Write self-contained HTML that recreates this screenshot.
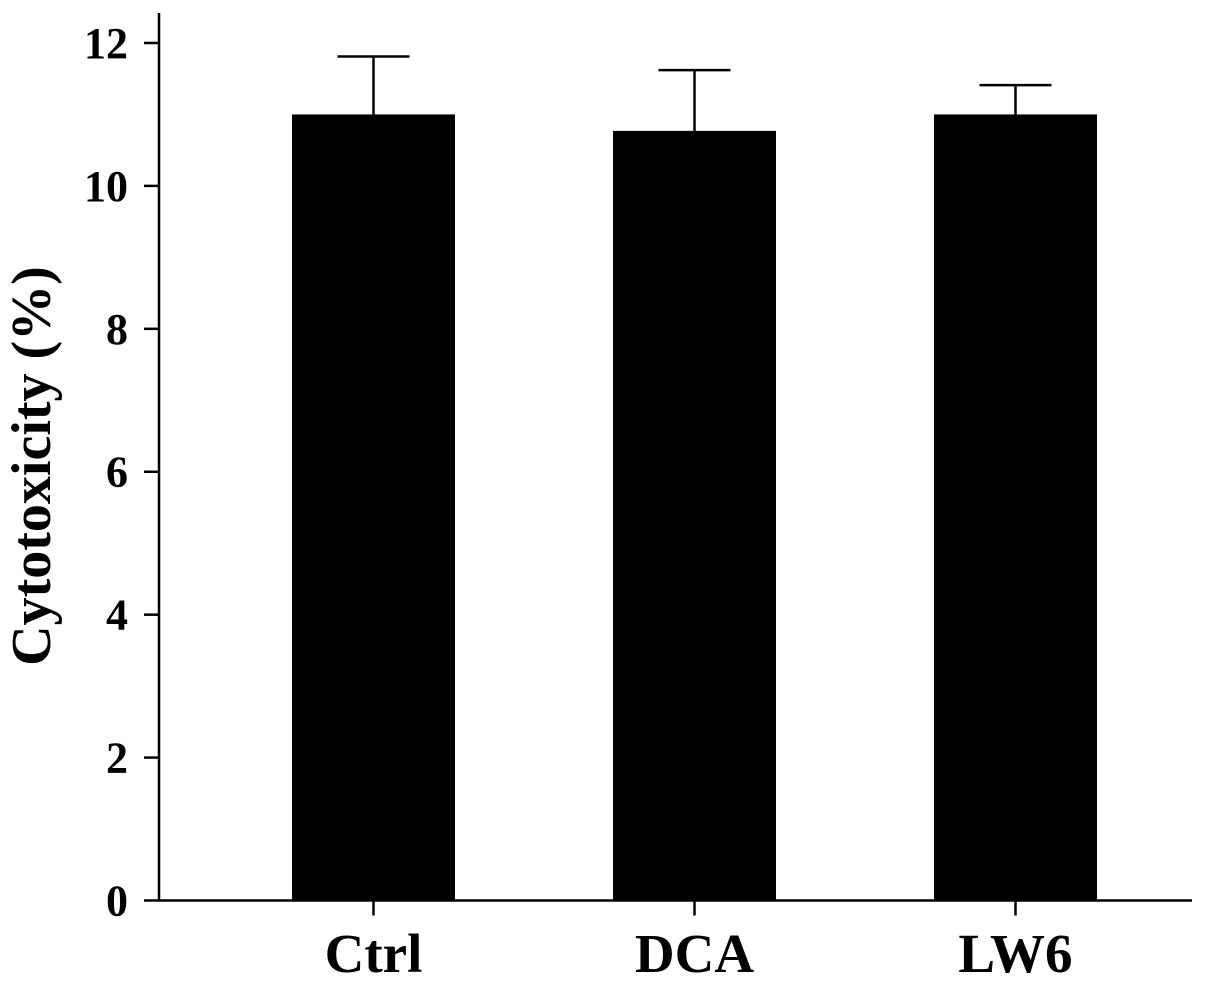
<!DOCTYPE html>
<html><head><meta charset="utf-8"><style>
html,body{margin:0;padding:0;background:#fff;}
svg{display:block;font-family:"Liberation Serif",serif;font-weight:bold;}
</style></head><body>
<svg id="chart" width="1205" height="987" viewBox="0 0 1205 987">
<g id="axes"></g><g id="bars"></g>
<text transform="translate(50,466) rotate(-90)" text-anchor="middle" font-size="56">Cytotoxicity (%)</text>
</svg>
<script>
const categories = ["Ctrl","DCA","LW6"];
const values = [11.0, 10.77, 11.0];
const errors = [0.81, 0.85, 0.41];
const yTicks = [0,2,4,6,8,10,12];

const NS="http://www.w3.org/2000/svg";
const x0=159, y0=900.5, unit=71.46;
const centers=[373.5,694.5,1015.5], barW=163;
const y=v=>y0-v*unit;
function mk(tag,attrs,parent){const e=document.createElementNS(NS,tag);for(const k in attrs)e.setAttribute(k,attrs[k]);parent.appendChild(e);return e;}
const axes=document.getElementById('axes'), bars=document.getElementById('bars');
let e=mk('line',{x1:x0,y1:13,x2:x0,y2:y0,stroke:'#000','stroke-width':2.5},axes);


e=mk('line',{x1:x0,y1:y0,x2:1192,y2:y0,stroke:'#000','stroke-width':2.5},axes);


yTicks.forEach(t=>{
  const l=mk('line',{x1:144,y1:y(t),x2:x0,y2:y(t),stroke:'#000','stroke-width':2.5},axes);
  
  
  const tx=mk('text',{x:128,y:y(t)+15,'text-anchor':'end','font-size':44},axes);
  tx.textContent=t;
  
  
});
categories.forEach((c,i)=>{
  const cx=centers[i];
  const r=mk('rect',{x:cx-barW/2,y:y(values[i]),width:barW,height:y0-y(values[i]),fill:'#000'},bars);
  
  
  const eb=mk('line',{x1:cx,y1:y(values[i]),x2:cx,y2:y(values[i]+errors[i]),stroke:'#000','stroke-width':2.5},bars);
  
  
  const cap=mk('line',{x1:cx-36,y1:y(values[i]+errors[i]),x2:cx+36,y2:y(values[i]+errors[i]),stroke:'#000','stroke-width':2.5},bars);
  
  
  const tk=mk('line',{x1:cx,y1:y0,x2:cx,y2:y0+15,stroke:'#000','stroke-width':2.5},axes);
  
  
  const lb=mk('text',{x:cx,y:972,'text-anchor':'middle','font-size':55},axes);
  lb.textContent=c;
  
  
});
</script>
</body></html>
